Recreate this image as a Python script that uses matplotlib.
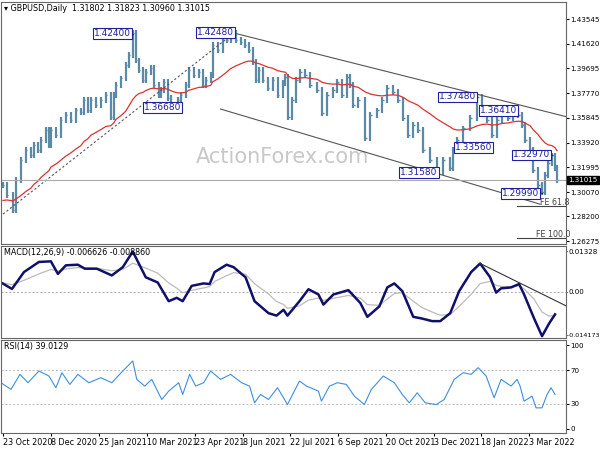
import numpy as np
import matplotlib.pyplot as plt

# price path (bar position on time axis, close)
bar_x = [2, 6, 12, 15, 20, 25, 30, 33, 37, 40, 45, 48, 50, 55, 60, 65, 70, 75, 80, 83, 87, 90, 95, 100,
         105, 110, 113, 115, 120, 125, 128, 132, 135, 138, 142, 145, 150, 153, 158, 160, 163, 167, 170,
         174, 177, 180, 185, 188, 193, 198, 202, 205, 210, 212, 217, 222, 226, 230, 235, 240, 244, 248,
         252, 255, 258, 262, 267, 272, 277, 282, 285, 288, 292, 296, 300, 305, 310, 317, 322, 327, 333,
         337, 342, 347, 350, 353, 358, 365, 370, 377, 382, 387, 393, 398, 403, 408, 413, 418, 423, 430,
         437, 443, 450, 453, 457, 463, 470, 477, 482, 487, 492, 497, 502, 508, 513, 518, 522, 525, 530,
         533, 538, 542, 545, 548, 552, 555, 557]
close = [1.3063, 1.2985, 1.2869, 1.3102, 1.3258, 1.3335, 1.3296, 1.3374, 1.3335, 1.3413, 1.3491, 1.3374,
         1.3491, 1.3452, 1.3569, 1.3608, 1.3569, 1.3646, 1.3631, 1.3724, 1.3646, 1.3724, 1.3685, 1.3724,
         1.3763, 1.3592, 1.3763, 1.3841, 1.3895, 1.3997, 1.4074, 1.4246, 1.4035, 1.3958, 1.3880, 1.3942,
         1.3973, 1.3841, 1.3763, 1.3802, 1.3864, 1.3740, 1.3685, 1.3670, 1.3724, 1.3763, 1.3841, 1.3958,
         1.3919, 1.3942, 1.3841, 1.3880, 1.3919, 1.4152, 1.4113, 1.4207, 1.4191, 1.4246, 1.4191, 1.4176,
         1.4152, 1.4113, 1.4020, 1.3880, 1.3958, 1.3880, 1.3818, 1.3880, 1.3763, 1.3857, 1.3903, 1.3592,
         1.3724, 1.3880, 1.3942, 1.3919, 1.3841, 1.3802, 1.3623, 1.3763, 1.3802, 1.3864, 1.3763, 1.3903,
         1.3841, 1.3685, 1.3724, 1.3429, 1.3608, 1.3646, 1.3724, 1.3818, 1.3787, 1.3724, 1.3584, 1.3452,
         1.3530, 1.3491, 1.3335, 1.3258, 1.3164, 1.3258, 1.3195, 1.3335, 1.3413, 1.3506, 1.3584, 1.3748,
         1.3646, 1.3569, 1.3452, 1.3569, 1.3631, 1.3584, 1.3646, 1.3608, 1.3530, 1.3413, 1.3335, 1.3180,
         1.3063, 1.3009, 1.3141, 1.3234, 1.3296, 1.3195, 1.3102]

macd_x = [0, 11, 23, 38, 50, 57, 65, 77, 84, 96, 111, 122, 132, 145, 157, 168, 176, 182, 191, 203, 209,
          214, 226, 233, 245, 254, 268, 276, 283, 287, 299, 308, 318, 323, 333, 348, 360, 367, 379, 387,
          394, 402, 413, 421, 432, 440, 450, 459, 471, 480, 490, 496, 501, 511, 519, 524, 534, 542, 549, 555]
macd = [0.0031, 0.0010, 0.0065, 0.0098, 0.0100, 0.0059, 0.0087, 0.0089, 0.0076, 0.0076, 0.0054, 0.0081,
        0.0132, 0.0048, 0.0031, -0.0030, -0.0019, -0.0030, 0.0020, 0.0028, 0.0026, 0.0065, 0.0089, 0.0081,
        0.0048, -0.0030, -0.0069, -0.0077, -0.0058, -0.0077, -0.0030, 0.0009, -0.0008, -0.0041, -0.0008,
        0.0006, -0.0036, -0.0081, -0.0047, 0.0015, 0.0028, 0.0003, -0.0081, -0.0086, -0.0095, -0.0095,
        -0.0069, 0.0003, 0.0065, 0.0093, 0.0048, -0.0002, 0.0012, 0.0015, 0.0026, -0.0008, -0.0086,
        -0.0144, -0.0103, -0.0073]

rsi_x = [0, 10, 19, 27, 38, 48, 55, 61, 69, 77, 88, 100, 111, 122, 132, 136, 144, 151, 161, 168, 178, 182,
         189, 195, 203, 210, 220, 230, 241, 249, 254, 260, 268, 277, 287, 299, 306, 318, 321, 329, 337,
         346, 354, 364, 371, 383, 394, 402, 409, 417, 425, 436, 444, 454, 463, 471, 478, 486, 494, 501,
         511, 517, 520, 524, 532, 536, 542, 547, 551, 555]
rsi = [55, 47, 65, 55, 69, 63, 49, 67, 53, 65, 55, 61, 55, 69, 81, 59, 51, 59, 35, 45, 55, 41, 65, 51,
       55, 69, 59, 65, 55, 51, 31, 41, 35, 49, 29, 57, 51, 45, 33, 51, 55, 53, 39, 29, 47, 63, 55, 41, 31,
       43, 31, 29, 35, 59, 67, 65, 73, 63, 37, 59, 51, 59, 51, 33, 39, 25, 25, 41, 49, 41]

date_x = [2, 50, 98, 146, 194, 242, 290, 338, 386, 434, 481, 529]
date_labels = ['23 Oct 2020', '8 Dec 2020', '25 Jan 2021', '10 Mar 2021', '23 Apr 2021', '8 Jun 2021',
               '22 Jul 2021', '6 Sep 2021', '20 Oct 2021', '3 Dec 2021', '18 Jan 2022', '3 Mar 2022']
price_ticks = [1.43545, 1.41620, 1.39695, 1.37770, 1.35845, 1.33920, 1.31995, 1.30070, 1.28200, 1.26275]

# swing labels: (x of swing, price, label box x)
swings = [(132, 1.4240, 93), (177, 1.3668, 143), (230, 1.4248, 196), (477, 1.3748, 439),
          (513, 1.3641, 480), (490, 1.3356, 455), (437, 1.3158, 400), (552, 1.3297, 513),
          (542, 1.2999, 502)]

W = 566
FS = 5.8
TS = 5.1
fig = plt.figure(figsize=(6, 4.5), dpi=100)
ax = fig.add_axes([1 / 600, 206 / 450, 565 / 600, 242 / 450])
am = fig.add_axes([1 / 600, 112 / 450, 565 / 600, 92 / 450])
ar = fig.add_axes([1 / 600, 17 / 450, 565 / 600, 93 / 450])

ymin, ymax = 1.26042, 1.44868
bar_col = '#5b8aa6'
c = np.array(close)
prev = np.r_[c[0], c[:-1]]
hi = np.maximum(prev, c) + 0.002
lo = np.minimum(prev, c) - 0.002
ax.vlines(bar_x, lo, hi, color=bar_col, lw=1.6)
ax.hlines(c, np.array(bar_x), np.array(bar_x) + 1.5, color=bar_col, lw=1)

# red moving average
ma = [c[0] - 0.012]
for v in c[1:]:
    ma.append(ma[-1] + (v - ma[-1]) * 0.09)
ax.plot(bar_x, ma, color='#e03030', lw=0.9)

# channel and trend lines
ax.plot([232, W], [1.4248, 1.3595], color='#555555', lw=0.8)
ax.plot([220, 540], [1.3654, 1.2914], color='#555555', lw=0.8)
ax.plot([2, 232], [1.2837, 1.4237], color='#555555', lw=0.8, ls=(0, (2, 2)))
ax.axhline(1.31015, color='#aaaaaa', lw=0.8)
ax.plot([517, W], [1.2900, 1.2900], color='#444444', lw=0.8)
ax.plot([517, W], [1.2651, 1.2651], color='#444444', lw=0.8)
ax.text(540, 1.2905, 'FE 61.8', fontsize=FS, color='#444444')
ax.text(536, 1.2656, 'FE 100.0', fontsize=FS, color='#444444')

for sx, sp, bx in swings:
    ax.plot([bx + 30, sx], [sp, sp], color='#222266', lw=0.8)
    ax.text(bx, sp, '%.5f' % sp, fontsize=6.5, color='#2020a0', va='center', ha='left',
            bbox=dict(boxstyle='square,pad=0.1', fc='white', ec='#2020a0', lw=0.8))

ax.text(282, 1.3280, 'ActionForex.com', fontsize=15, color='#c8c8c8', ha='center', va='center', zorder=0)
ax.text(3, 1.4440, '▾ GBPUSD,Daily  1.31802 1.31823 1.30960 1.31015', fontsize=FS, va='center')
ax.set_ylim(ymin, ymax)
ax.yaxis.tick_right()
ax.set_yticks(price_ticks)
ax.set_yticklabels(['%.5f' % t for t in price_ticks])
ax.text(1.004, (1.31015 - ymin) / (ymax - ymin), '1.31015', transform=ax.transAxes, fontsize=TS,
        color='white', va='center', bbox=dict(boxstyle='square,pad=0.15', fc='black', ec='black'))

# MACD
sig = [macd[0]]
for v in macd[1:]:
    sig.append(sig[-1] + (v - sig[-1]) * 0.35)
am.axhline(0, color='#aaaaaa', lw=0.7, ls=(0, (2, 2)))
am.plot(macd_x, sig, color='#bbbbbb', lw=0.9)
am.plot(macd_x, macd, color='#10106a', lw=1.8)
am.plot([480, W], [0.0093, -0.0045], color='#333333', lw=0.8)
am.set_ylim(-0.0150, 0.0150)
am.yaxis.tick_right()
am.set_yticks([0.01328, 0.0, -0.014173])
am.set_yticklabels(['0.01328', '0.00', '-0.014173'])
am.text(3, 0.0128, 'MACD(12,26,9) -0.006626 -0.008860', fontsize=FS, va='center')

# RSI
for lvl in (30, 70):
    ar.axhline(lvl, color='#bbbbbb', lw=0.7, ls=(0, (2, 2)))
ar.plot(rsi_x, rsi, color='#3d8fe0', lw=0.8)
ar.set_ylim(-5, 106)
ar.yaxis.tick_right()
ar.set_yticks([100, 70, 30, 0])
ar.text(3, 98, 'RSI(14) 39.0129', fontsize=FS, va='center')
ar.set_xticks(date_x)
ar.set_xticklabels(date_labels, ha='left')

for a in (ax, am, ar):
    a.set_xlim(0, W)
    a.tick_params(axis='y', labelsize=TS, length=2, pad=1)
    a.tick_params(axis='x', labelsize=FS, length=2, pad=1.5)
    for s in a.spines.values():
        s.set_color('#666666')
for a in (ax, am):
    a.set_xticks([])
am.tick_params(axis='y', length=1, pad=0.5)
am.get_yticklabels()[-1].set_fontsize(4.6)

fig.savefig('out.png')
